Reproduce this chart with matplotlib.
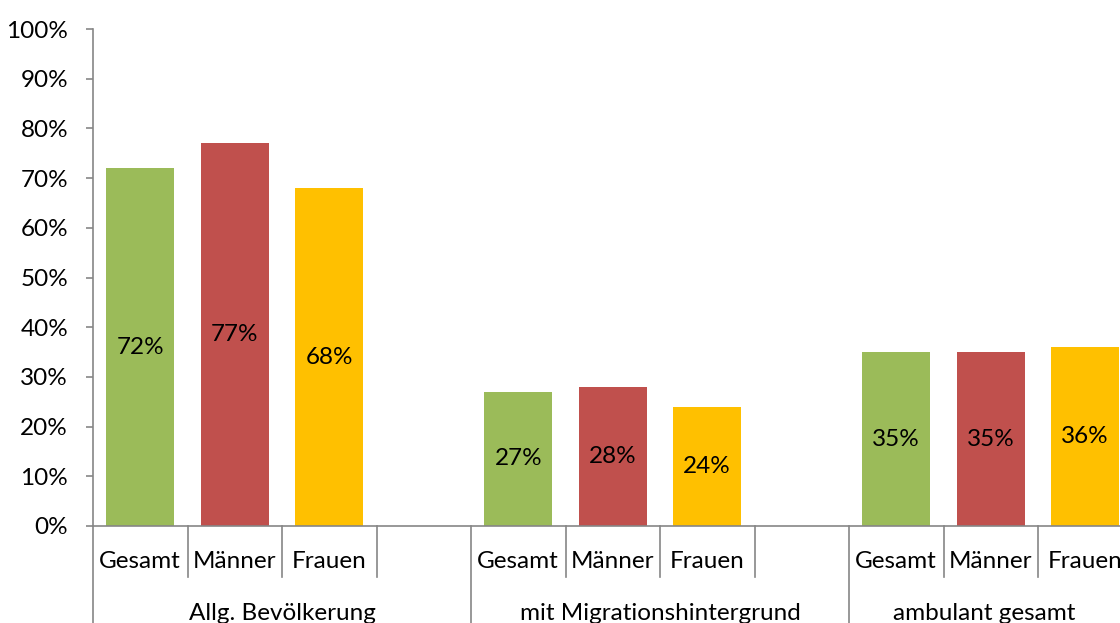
# Anteil nach Gruppe und Geschlecht -- gruppiertes Balkendiagramm mit zweistufiger Achse
import numpy             as np
import matplotlib.pyplot as plt
from matplotlib.transforms import blended_transform_factory

# data
groups   = ['Allg. Bevölkerung', 'mit Migrationshintergrund', 'ambulant gesamt']
subcats  = ['Gesamt', 'Männer', 'Frauen']
gesamt   = [72, 27, 35]
maenner  = [77, 28, 35]
frauen   = [68, 24, 36]
yticks   = [0, 10, 20, 30, 40, 50, 60, 70, 80, 90, 100]

colors   = ['#9BBB59', '#C0504D', '#FFC000']
grey     = '#868686'
slots    = 4  # three bars plus one empty slot per group
fs       = 17.5

plt.rcParams['font.family'] = ['Lato', 'DejaVu Sans']

fig = plt.figure(figsize=(11.2, 6.23), dpi=100)
# axes run past the right edge of the figure, as in the original
ax = fig.add_axes([93/1120, 97/623, 1134/1120, 497/623])

series = [gesamt, maenner, frauen]
for j, vals in enumerate(series):
    xpos = np.arange(len(groups))*slots + j
    bars = ax.bar(xpos, vals, width=0.72, color=colors[j], zorder=2)
    ax.bar_label(bars, labels=['%d%%' % v for v in vals], label_type='center',
                 fontsize=fs, color='black')

ax.set_xlim(-0.5, len(groups)*slots - 0.5)
ax.set_ylim(0, 100)
ax.set_yticks(yticks)
ax.set_yticklabels(['%d%%' % t for t in yticks], fontsize=fs)
ax.tick_params(axis='y', length=5, width=1.2, color=grey, pad=13)
ax.set_xticks([])

for s in ['top', 'right']:
    ax.spines[s].set_visible(False)
for s in ['left', 'bottom']:
    ax.spines[s].set_color(grey)
    ax.spines[s].set_linewidth(1.2)

# hierarchical category axis
trans = blended_transform_factory(ax.transData, ax.transAxes)
for k in range(len(groups)*slots + 1):
    xb = k - 0.5
    ybot = -0.25 if k % slots == 0 else -0.103
    ax.plot([xb, xb], [0, ybot], color=grey, lw=1.2, transform=trans, clip_on=False)

for g in range(len(groups)):
    for j, name in enumerate(subcats):
        ax.text(g*slots + j, -0.071, name, transform=trans, ha='center', va='center',
                fontsize=fs)

# group labels centred in the visible part of each group
x_visible = ax.transData.inverted().transform((1120, 0))[0]
for g, name in enumerate(groups):
    x0 = g*slots - 0.5
    x1 = min(x0 + slots, x_visible)
    ax.text((x0 + x1)/2, -0.177, name, transform=trans, ha='center', va='center',
            fontsize=fs)

fig.savefig('out.png', dpi=100)
